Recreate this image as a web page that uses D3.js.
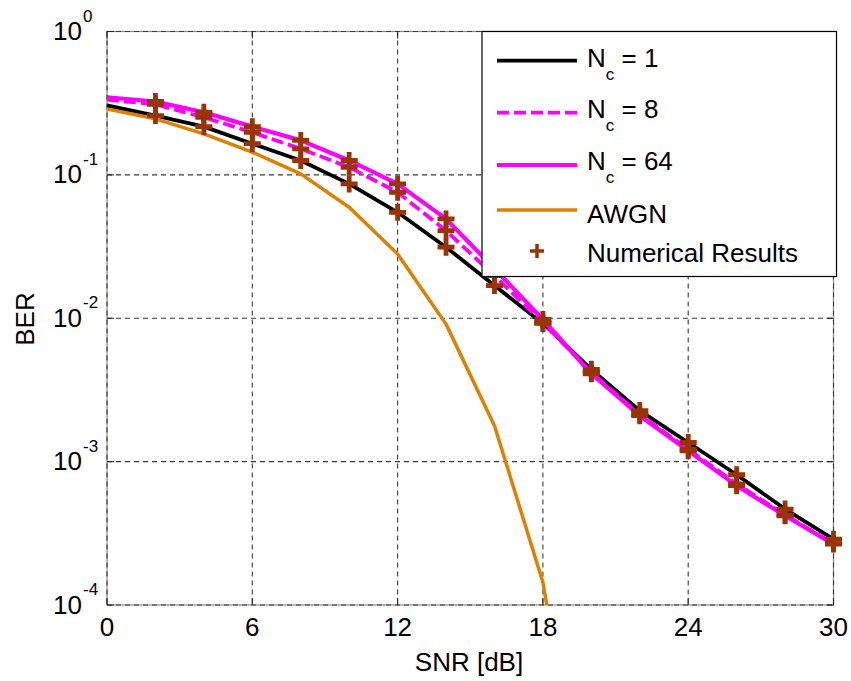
<!DOCTYPE html>
<html>
<head>
<meta charset="utf-8">
<script src="https://cdn.jsdelivr.net/npm/d3@7"></script>
<style>
  html, body { margin: 0; padding: 0; background: #fff; }
  svg { display: block; font-family: "Liberation Sans", Arial, Helvetica, sans-serif; }
</style>
</head>
<body>
<svg id="chart" width="851" height="681"></svg>
<script>
// ---- data ----
const snr = [0, 2, 4, 6, 8, 10, 12, 14, 16, 18, 20, 22, 24, 26, 28, 30];
const berNc1 = [0.305, 0.259, 0.217, 0.165, 0.126, 0.0865, 0.0548, 0.0313, 0.0169, 0.0092, 0.0044, 0.00227, 0.00136, 0.00081, 0.000467, 0.000288];
const berNc8 = [0.335, 0.31, 0.252, 0.198, 0.152, 0.113, 0.0756, 0.0408, 0.0198, 0.0093, 0.0042, 0.00213, 0.00122, 0.00070, 0.000425, 0.000268];
const berNc64 = [0.348, 0.325, 0.273, 0.217, 0.174, 0.126, 0.0865, 0.0493, 0.0222, 0.0098, 0.0041, 0.00209, 0.00119, 0.00068, 0.000419, 0.000266];
const snrAwgn = [0, 2, 4, 6, 8, 10, 12, 14, 16, 18, 20];
const berAwgn = [0.288, 0.246, 0.193, 0.144, 0.1016, 0.0594, 0.0281, 0.0091, 0.00178, 0.000144, 0.0000015];
const snrNumerical = [2, 4, 6, 8, 10, 12, 14, 16, 18, 20, 22, 24, 26, 28, 30];
const xTicks = [0, 6, 12, 18, 24, 30];
const yTickExps = [0, -1, -2, -3, -4];
const legendLabels = [
  { main: "N", sub: "c", rest: " = 1" },
  { main: "N", sub: "c", rest: " = 8" },
  { main: "N", sub: "c", rest: " = 64" },
  { main: "AWGN", sub: "", rest: "" },
  { main: "Numerical Results", sub: "", rest: "" }
];

// ---- layout ----
const L = 107, R = 833.5, T = 31.5, B = 605;
const svg = d3.select("#chart");
const x = d3.scaleLinear().domain([0, 30]).range([L, R]);
const y = d3.scaleLog().domain([1e-4, 1]).range([B, T]);

svg.append("rect").attr("width", 851).attr("height", 681).attr("fill", "#fff");

svg.append("defs").append("clipPath").attr("id", "plotclip")
  .append("rect").attr("x", L).attr("y", T).attr("width", R - L).attr("height", B - T);

// box (solid light) under dashed grid
const boxG = svg.append("g");
boxG.append("rect").attr("x", L).attr("y", T).attr("width", R - L).attr("height", B - T)
  .attr("fill", "none").attr("stroke", "#8a8a8a").attr("stroke-width", 1.2);

// grid
const gridG = svg.append("g").attr("stroke", "#3a3a3a").attr("stroke-width", 1.1).attr("stroke-dasharray", "5,4").attr("fill", "none");
xTicks.forEach(t => {
  gridG.append("line").attr("x1", x(t)).attr("x2", x(t)).attr("y1", T).attr("y2", B);
});
yTickExps.forEach(e => {
  gridG.append("line").attr("x1", L).attr("x2", R).attr("y1", y(Math.pow(10, e))).attr("y2", y(Math.pow(10, e)));
});

// tick marks (inward)
const tickG = svg.append("g").attr("stroke", "#222").attr("stroke-width", 1);
xTicks.forEach(t => {
  tickG.append("line").attr("x1", x(t)).attr("x2", x(t)).attr("y1", B).attr("y2", B - 7);
  tickG.append("line").attr("x1", x(t)).attr("x2", x(t)).attr("y1", T).attr("y2", T + 7);
});
yTickExps.forEach(e => {
  const yy = y(Math.pow(10, e));
  tickG.append("line").attr("x1", L).attr("x2", L + 7).attr("y1", yy).attr("y2", yy);
  tickG.append("line").attr("x1", R).attr("x2", R - 7).attr("y1", yy).attr("y2", yy);
});

// tick labels
const lblG = svg.append("g").attr("fill", "#000");
xTicks.forEach(t => {
  lblG.append("text").attr("x", x(t)).attr("y", 636).attr("text-anchor", "middle")
    .attr("font-size", 26).text(t);
});
yTickExps.forEach(e => {
  const yy = y(Math.pow(10, e));
  lblG.append("text").attr("x", 82).attr("y", yy + 8.5).attr("text-anchor", "end")
    .attr("font-size", 26).text("10");
  lblG.append("text").attr("x", 83).attr("y", yy - 10).attr("text-anchor", "start")
    .attr("font-size", 17).text(e);
});

// axis labels
svg.append("text").attr("x", 469).attr("y", 671).attr("text-anchor", "middle")
  .attr("font-size", 26).text("SNR [dB]");
svg.append("text").attr("transform", "translate(34,319) rotate(-90)").attr("text-anchor", "middle")
  .attr("font-size", 26).text("BER");

// curves
const line = d3.line().x(d => x(d[0])).y(d => y(d[1]));
const curveG = svg.append("g").attr("clip-path", "url(#plotclip)").attr("fill", "none")
  .attr("stroke-linejoin", "round");
const series = [
  { xs: snr, ys: berNc1, color: "#000000", width: 3.8, dash: null },
  { xs: snr, ys: berNc8, color: "#ff00ff", width: 3.8, dash: "12,5" },
  { xs: snr, ys: berNc64, color: "#ff00ff", width: 4.2, dash: null },
  { xs: snrAwgn, ys: berAwgn, color: "#e08000", width: 3.5, dash: null }
];
series.forEach(s => {
  curveG.append("path").datum(s.xs.map((v, i) => [v, s.ys[i]]))
    .attr("d", line).attr("stroke", s.color).attr("stroke-width", s.width)
    .attr("stroke-dasharray", s.dash);
});

// numerical markers
const markerColor = "#993300";
function plus(g, cx, cy, half, w) {
  g.append("path").attr("d", `M${cx - half},${cy}H${cx + half}M${cx},${cy - half}V${cy + half}`)
    .attr("stroke", markerColor).attr("stroke-width", w).attr("fill", "none");
}
const markG = svg.append("g");
[berNc1, berNc8, berNc64].forEach(arr => {
  snrNumerical.forEach(s => {
    const i = snr.indexOf(s);
    plus(markG, x(s), y(arr[i]), 8.5, 4.8);
  });
});

// legend
const lg = svg.append("g");
lg.append("rect").attr("x", 482).attr("y", 31.5).attr("width", 354.5).attr("height", 245)
  .attr("fill", "#fff").attr("stroke", "#000").attr("stroke-width", 1.2);
const rowLineY = [60.7, 112.7, 165, 210, 251];
const rowTextY = [66.7, 118.3, 170, 222.7, 261.7];
series.forEach((s, i) => {
  lg.append("line").attr("x1", 497).attr("x2", 577).attr("y1", rowLineY[i]).attr("y2", rowLineY[i])
    .attr("stroke", s.color).attr("stroke-width", s.width).attr("stroke-dasharray", s.dash);
});
plus(lg, 537, rowLineY[4], 7, 3.5);
legendLabels.forEach((lab, i) => {
  const t = lg.append("text").attr("x", 587).attr("y", rowTextY[i]).attr("font-size", 26);
  t.append("tspan").text(lab.main);
  if (lab.sub) {
    t.append("tspan").attr("dy", 13).attr("font-size", 17).text(lab.sub);
    t.append("tspan").attr("dy", -13).text(lab.rest);
  }
});
</script>
</body>
</html>
